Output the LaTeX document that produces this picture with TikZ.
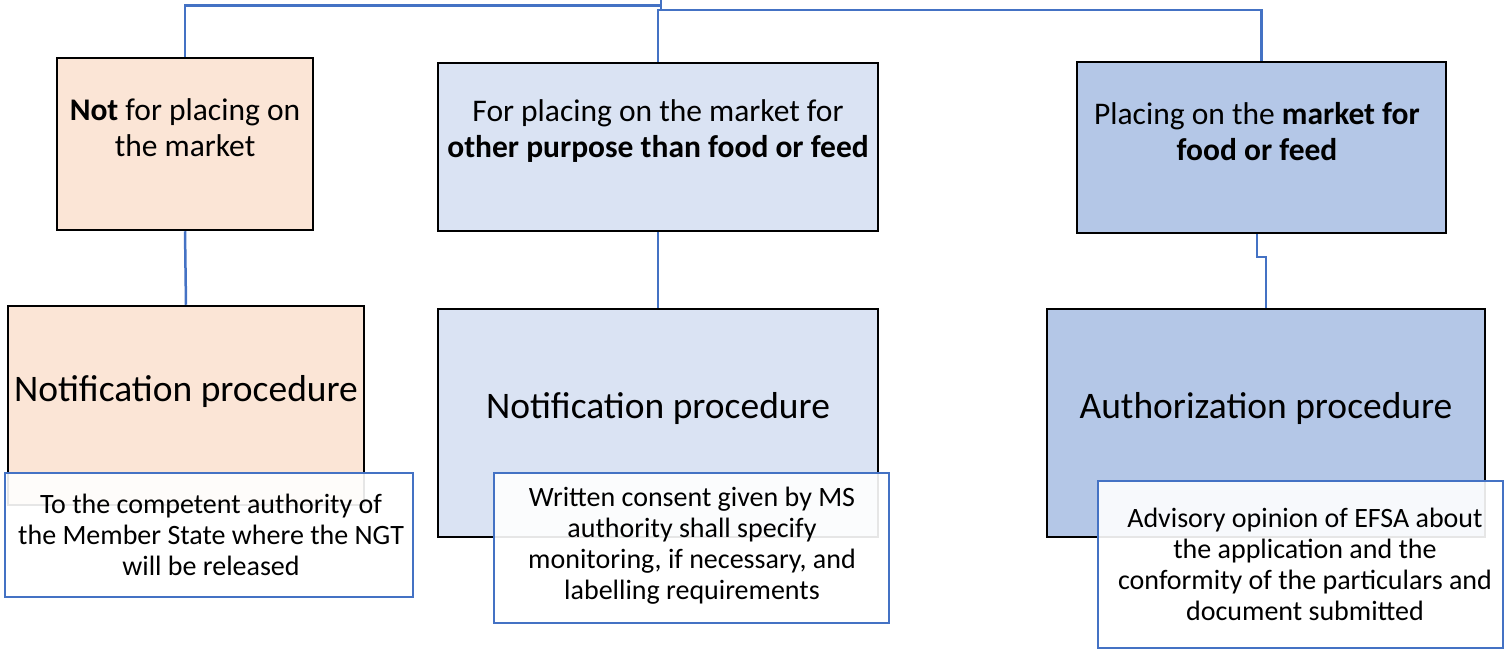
\documentclass[tikz,border=0pt]{standalone}
\usepackage{fontspec}
\setmainfont{Carlito}
\definecolor{peach}{HTML}{FBE5D6}
\definecolor{lblue}{HTML}{DAE3F3}
\definecolor{mblue}{HTML}{B4C7E7}
\definecolor{lineblue}{HTML}{4472C4}
\begin{document}
\begin{tikzpicture}[x=1pt,y=-1pt,
  bigbox/.style={draw=black,line width=2.5pt,inner sep=0pt,minimum width=#1},
  notebox/.style={draw=lineblue,line width=2pt,fill=white,fill opacity=0.9,text opacity=1,inner sep=0pt},
  conn/.style={draw=lineblue,line width=2.5pt},
  toptxt/.style={align=center,font=\fontsize{31.5}{36}\selectfont},
  bigtxt/.style={font=\fontsize{37.5}{42}\selectfont},
  notetxt/.style={align=center,font=\fontsize{28}{31}\selectfont}]
\useasboundingbox (0,0) rectangle (1504,652);
% top boxes
\node[bigbox=256pt,minimum height=172pt,fill=peach] (A) at (185,144) {};
\node[bigbox=440pt,minimum height=168pt,fill=lblue] (B) at (658,147) {};
\node[bigbox=369pt,minimum height=171pt,fill=mblue] (C) at (1261.5,147.5) {};
% lower boxes
\node[bigbox=356pt,minimum height=199pt,fill=peach] (A2) at (186,405.5) {};
\node[bigbox=440pt,minimum height=228pt,fill=lblue] (B2) at (658,423) {};
\node[bigbox=438pt,minimum height=228pt,fill=mblue] (C2) at (1266,423) {};
% texts
\node[toptxt] (At) at (185,128) {\textbf{Not} for placing on\\the market};
\node[toptxt] (Bt) at (658,131) {For placing on the market for\\\textbf{other purpose than food or feed}};
\node[toptxt] (Ct) at (1257,132) {Placing on the \textbf{market for}\\\textbf{food or feed}};
\node[bigtxt] (A2t) at (186,392) {Notification procedure};
\node[bigtxt] (B2t) at (658,409) {Notification procedure};
\node[bigtxt] (C2t) at (1266,409) {Authorization procedure};
% connectors
\coordinate (root) at (661,0);
\draw[conn] (root) -- ++(0,5.7) -| (A.north);
\draw[conn] (root) -- ++(0,10) -| (B.north);
\draw[conn] (root) -- ++(0,10) -| (C.north);
\draw[conn] (A.south) -- (A2.north);
\draw[conn] (B.south) -- (B2.north);
\draw[conn] ([xshift=-4.5pt]C.south) -- ++(0,23) -| (C2.north);
% note boxes
\node[notebox,minimum width=408pt,minimum height=124pt] (An) at (209,535) {};
\node[notebox,minimum width=395pt,minimum height=150pt] (Bn) at (691.5,548) {};
\node[notebox,minimum width=405pt,minimum height=167pt] (Cn) at (1300.5,564.5) {};
\node[notetxt] (Ant) at (211,535) {To the competent authority of\\the Member State where the NGT\\will be released};
\node[notetxt] (Bnt) at (692,546) {Written consent given by MS\\authority shall specify\\monitoring, if necessary, and\\labelling requirements};
\node[notetxt] (Cnt) at (1305,564) {Advisory opinion of EFSA about\\the application and the\\conformity of the particulars and\\document submitted};
\end{tikzpicture}
\end{document}
